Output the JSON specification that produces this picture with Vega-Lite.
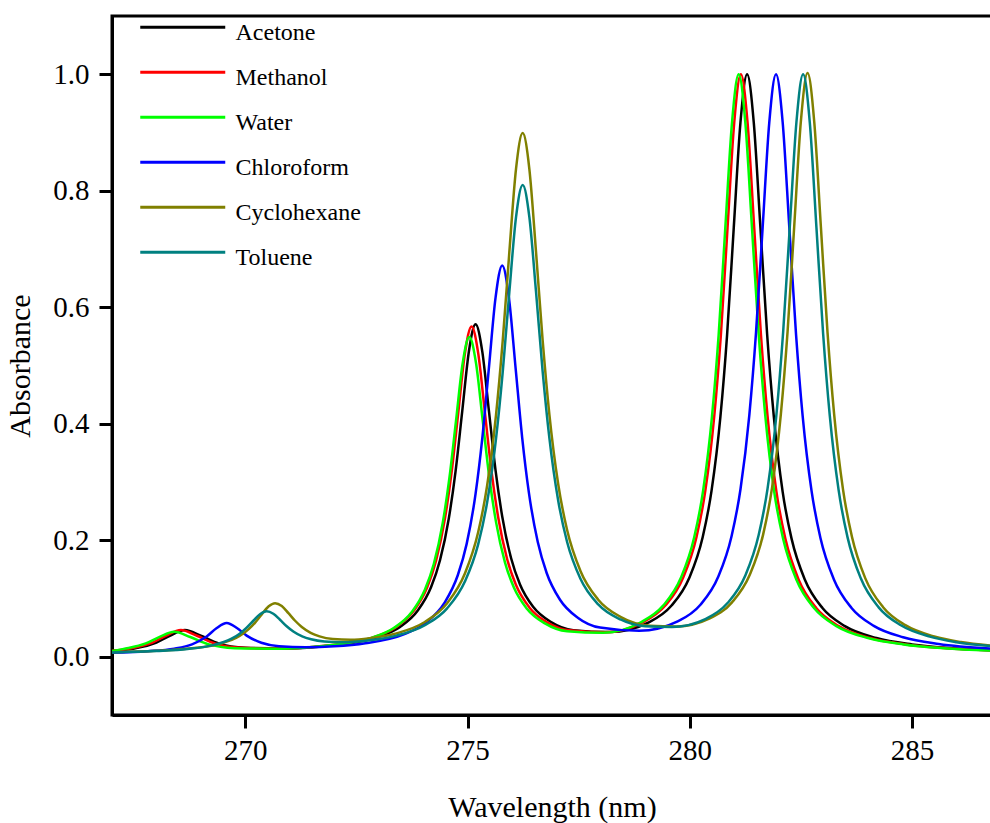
{
  "$schema": "https://vega.github.io/schema/vega-lite/v6.json",
  "width": 880,
  "height": 699,
  "autosize": {"type": "none"},
  "padding": {"left": 112, "top": 16, "right": 0, "bottom": 108},
  "background": "white",
  "config": {
    "font": "Liberation Serif",
    "view": {"stroke": "black", "strokeWidth": 3}
  },
  "data": {"values": [
{"s":"Acetone","x":267,"y":0.010},{"s":"Acetone","x":267.5,"y":0.0142},{"s":"Acetone","x":268,"y":0.0244},{"s":"Acetone","x":268.3,"y":0.0359},{"s":"Acetone","x":268.64,"y":0.0458},{"s":"Acetone","x":269.0,"y":0.036},{"s":"Acetone","x":269.4,"y":0.023},{"s":"Acetone","x":270,"y":0.0155},{"s":"Acetone","x":270.8,"y":0.0142},{"s":"Acetone","x":271.6,"y":0.0168},{"s":"Acetone","x":272.3,"y":0.0226},{"s":"Acetone","x":272.98,"y":0.0338},{"s":"Acetone","x":273.48,"y":0.0512},{"s":"Acetone","x":273.88,"y":0.0794},{"s":"Acetone","x":274.18,"y":0.1197},{"s":"Acetone","x":274.38,"y":0.1656},{"s":"Acetone","x":274.58,"y":0.2383},{"s":"Acetone","x":274.73,"y":0.3183},{"s":"Acetone","x":274.88,"y":0.4212},{"s":"Acetone","x":275.03,"y":0.5241},{"s":"Acetone","x":275.18,"y":0.5709},{"s":"Acetone","x":275.33,"y":0.5246},{"s":"Acetone","x":275.48,"y":0.4225},{"s":"Acetone","x":275.63,"y":0.32},{"s":"Acetone","x":275.78,"y":0.2408},{"s":"Acetone","x":275.98,"y":0.169},{"s":"Acetone","x":276.18,"y":0.1241},{"s":"Acetone","x":276.48,"y":0.0853},{"s":"Acetone","x":276.88,"y":0.0595},{"s":"Acetone","x":277.38,"y":0.0456},{"s":"Acetone","x":278.2,"y":0.0423},{"s":"Acetone","x":279.09,"y":0.0595},{"s":"Acetone","x":279.59,"y":0.0879},{"s":"Acetone","x":279.99,"y":0.1357},{"s":"Acetone","x":280.29,"y":0.2053},{"s":"Acetone","x":280.49,"y":0.2851},{"s":"Acetone","x":280.69,"y":0.4125},{"s":"Acetone","x":280.84,"y":0.553},{"s":"Acetone","x":280.99,"y":0.737},{"s":"Acetone","x":281.14,"y":0.917},{"s":"Acetone","x":281.29,"y":1.0},{"s":"Acetone","x":281.44,"y":0.917},{"s":"Acetone","x":281.59,"y":0.736},{"s":"Acetone","x":281.74,"y":0.554},{"s":"Acetone","x":281.89,"y":0.413},{"s":"Acetone","x":282.09,"y":0.2831},{"s":"Acetone","x":282.29,"y":0.2028},{"s":"Acetone","x":282.59,"y":0.1323},{"s":"Acetone","x":282.99,"y":0.0832},{"s":"Acetone","x":283.49,"y":0.0526},{"s":"Acetone","x":284.2,"y":0.0321},{"s":"Acetone","x":285.0,"y":0.0212},{"s":"Acetone","x":285.9,"y":0.0148},{"s":"Acetone","x":286.8,"y":0.0112},
{"s":"Methanol","x":267,"y":0.0102},{"s":"Methanol","x":267.41,"y":0.0142},{"s":"Methanol","x":267.91,"y":0.0244},{"s":"Methanol","x":268.21,"y":0.0359},{"s":"Methanol","x":268.55,"y":0.0458},{"s":"Methanol","x":268.91,"y":0.036},{"s":"Methanol","x":269.31,"y":0.023},{"s":"Methanol","x":269.91,"y":0.0155},{"s":"Methanol","x":270.71,"y":0.0142},{"s":"Methanol","x":271.51,"y":0.0168},{"s":"Methanol","x":272.21,"y":0.0226},{"s":"Methanol","x":272.89,"y":0.0336},{"s":"Methanol","x":273.39,"y":0.0508},{"s":"Methanol","x":273.79,"y":0.0788},{"s":"Methanol","x":274.09,"y":0.1189},{"s":"Methanol","x":274.29,"y":0.1645},{"s":"Methanol","x":274.49,"y":0.2367},{"s":"Methanol","x":274.64,"y":0.3161},{"s":"Methanol","x":274.79,"y":0.4183},{"s":"Methanol","x":274.94,"y":0.5204},{"s":"Methanol","x":275.09,"y":0.567},{"s":"Methanol","x":275.24,"y":0.5209},{"s":"Methanol","x":275.39,"y":0.4195},{"s":"Methanol","x":275.54,"y":0.3178},{"s":"Methanol","x":275.69,"y":0.2391},{"s":"Methanol","x":275.89,"y":0.1678},{"s":"Methanol","x":276.09,"y":0.1232},{"s":"Methanol","x":276.39,"y":0.0847},{"s":"Methanol","x":276.79,"y":0.0591},{"s":"Methanol","x":277.29,"y":0.0453},{"s":"Methanol","x":278.1,"y":0.042},{"s":"Methanol","x":278.95,"y":0.0595},{"s":"Methanol","x":279.45,"y":0.0879},{"s":"Methanol","x":279.85,"y":0.1357},{"s":"Methanol","x":280.15,"y":0.2053},{"s":"Methanol","x":280.35,"y":0.2851},{"s":"Methanol","x":280.55,"y":0.4125},{"s":"Methanol","x":280.70,"y":0.553},{"s":"Methanol","x":280.85,"y":0.737},{"s":"Methanol","x":281.0,"y":0.917},{"s":"Methanol","x":281.15,"y":1.0},{"s":"Methanol","x":281.3,"y":0.917},{"s":"Methanol","x":281.45,"y":0.736},{"s":"Methanol","x":281.6,"y":0.554},{"s":"Methanol","x":281.75,"y":0.413},{"s":"Methanol","x":281.95,"y":0.2831},{"s":"Methanol","x":282.15,"y":0.2028},{"s":"Methanol","x":282.45,"y":0.1323},{"s":"Methanol","x":282.85,"y":0.0832},{"s":"Methanol","x":283.35,"y":0.0526},{"s":"Methanol","x":284.06,"y":0.0321},{"s":"Methanol","x":284.86,"y":0.0212},{"s":"Methanol","x":285.76,"y":0.0148},{"s":"Methanol","x":286.8,"y":0.011},
{"s":"Water","x":267,"y":0.0097},{"s":"Water","x":267.26,"y":0.0135},{"s":"Water","x":267.76,"y":0.0229},{"s":"Water","x":268.06,"y":0.0338},{"s":"Water","x":268.4,"y":0.043},{"s":"Water","x":268.76,"y":0.0339},{"s":"Water","x":269.16,"y":0.0217},{"s":"Water","x":269.76,"y":0.0148},{"s":"Water","x":270.6,"y":0.0138},{"s":"Water","x":271.45,"y":0.0165},{"s":"Water","x":272.2,"y":0.0222},{"s":"Water","x":272.84,"y":0.0325},{"s":"Water","x":273.34,"y":0.0492},{"s":"Water","x":273.74,"y":0.0763},{"s":"Water","x":274.04,"y":0.1151},{"s":"Water","x":274.24,"y":0.1592},{"s":"Water","x":274.44,"y":0.2291},{"s":"Water","x":274.59,"y":0.306},{"s":"Water","x":274.74,"y":0.405},{"s":"Water","x":274.89,"y":0.5039},{"s":"Water","x":275.04,"y":0.549},{"s":"Water","x":275.19,"y":0.5044},{"s":"Water","x":275.34,"y":0.4062},{"s":"Water","x":275.49,"y":0.3077},{"s":"Water","x":275.64,"y":0.2315},{"s":"Water","x":275.84,"y":0.1625},{"s":"Water","x":276.04,"y":0.1193},{"s":"Water","x":276.34,"y":0.082},{"s":"Water","x":276.74,"y":0.0572},{"s":"Water","x":277.24,"y":0.0438},{"s":"Water","x":278.05,"y":0.0412},{"s":"Water","x":278.9,"y":0.0592},{"s":"Water","x":279.4,"y":0.0877},{"s":"Water","x":279.8,"y":0.1355},{"s":"Water","x":280.1,"y":0.2052},{"s":"Water","x":280.3,"y":0.285},{"s":"Water","x":280.5,"y":0.4125},{"s":"Water","x":280.65,"y":0.553},{"s":"Water","x":280.8,"y":0.737},{"s":"Water","x":280.95,"y":0.917},{"s":"Water","x":281.1,"y":1.0},{"s":"Water","x":281.25,"y":0.917},{"s":"Water","x":281.4,"y":0.736},{"s":"Water","x":281.55,"y":0.554},{"s":"Water","x":281.7,"y":0.413},{"s":"Water","x":281.9,"y":0.2831},{"s":"Water","x":282.1,"y":0.2028},{"s":"Water","x":282.4,"y":0.1323},{"s":"Water","x":282.8,"y":0.0832},{"s":"Water","x":283.3,"y":0.0526},{"s":"Water","x":284.01,"y":0.0321},{"s":"Water","x":284.81,"y":0.0212},{"s":"Water","x":285.71,"y":0.0148},{"s":"Water","x":286.8,"y":0.0108},
{"s":"Chloroform","x":267,"y":0.007},{"s":"Chloroform","x":267.8,"y":0.0095},{"s":"Chloroform","x":268.4,"y":0.0139},{"s":"Chloroform","x":268.8,"y":0.0214},{"s":"Chloroform","x":269.13,"y":0.0348},{"s":"Chloroform","x":269.35,"y":0.0488},{"s":"Chloroform","x":269.58,"y":0.0579},{"s":"Chloroform","x":269.81,"y":0.0494},{"s":"Chloroform","x":270.03,"y":0.0363},{"s":"Chloroform","x":270.36,"y":0.024},{"s":"Chloroform","x":270.76,"y":0.018},{"s":"Chloroform","x":271.36,"y":0.0163},{"s":"Chloroform","x":272.0,"y":0.0179},{"s":"Chloroform","x":272.7,"y":0.0232},{"s":"Chloroform","x":273.58,"y":0.0388},{"s":"Chloroform","x":274.08,"y":0.0594},{"s":"Chloroform","x":274.48,"y":0.0924},{"s":"Chloroform","x":274.78,"y":0.1399},{"s":"Chloroform","x":274.98,"y":0.1938},{"s":"Chloroform","x":275.18,"y":0.2796},{"s":"Chloroform","x":275.33,"y":0.374},{"s":"Chloroform","x":275.48,"y":0.4955},{"s":"Chloroform","x":275.63,"y":0.6166},{"s":"Chloroform","x":275.78,"y":0.6718},{"s":"Chloroform","x":275.93,"y":0.6168},{"s":"Chloroform","x":276.08,"y":0.4965},{"s":"Chloroform","x":276.23,"y":0.3755},{"s":"Chloroform","x":276.38,"y":0.2818},{"s":"Chloroform","x":276.58,"y":0.1969},{"s":"Chloroform","x":276.78,"y":0.1438},{"s":"Chloroform","x":277.08,"y":0.0979},{"s":"Chloroform","x":277.48,"y":0.0671},{"s":"Chloroform","x":277.98,"y":0.0501},{"s":"Chloroform","x":278.86,"y":0.0445},{"s":"Chloroform","x":279.74,"y":0.0611},{"s":"Chloroform","x":280.24,"y":0.0893},{"s":"Chloroform","x":280.64,"y":0.1372},{"s":"Chloroform","x":280.94,"y":0.207},{"s":"Chloroform","x":281.14,"y":0.2871},{"s":"Chloroform","x":281.34,"y":0.4149},{"s":"Chloroform","x":281.49,"y":0.5559},{"s":"Chloroform","x":281.64,"y":0.7376},{"s":"Chloroform","x":281.79,"y":0.9182},{"s":"Chloroform","x":281.94,"y":1.0},{"s":"Chloroform","x":282.09,"y":0.9176},{"s":"Chloroform","x":282.24,"y":0.7365},{"s":"Chloroform","x":282.39,"y":0.5544},{"s":"Chloroform","x":282.54,"y":0.4131},{"s":"Chloroform","x":282.74,"y":0.2847},{"s":"Chloroform","x":282.94,"y":0.204},{"s":"Chloroform","x":283.24,"y":0.1332},{"s":"Chloroform","x":283.64,"y":0.0838},{"s":"Chloroform","x":284.14,"y":0.0531},{"s":"Chloroform","x":284.8,"y":0.0335},{"s":"Chloroform","x":285.6,"y":0.022},{"s":"Chloroform","x":286.8,"y":0.014},
{"s":"Cyclohexane","x":267,"y":0.0079},{"s":"Cyclohexane","x":268,"y":0.0103},{"s":"Cyclohexane","x":268.8,"y":0.0145},{"s":"Cyclohexane","x":269.4,"y":0.0217},{"s":"Cyclohexane","x":269.87,"y":0.0357},{"s":"Cyclohexane","x":270.07,"y":0.0471},{"s":"Cyclohexane","x":270.22,"y":0.0587},{"s":"Cyclohexane","x":270.37,"y":0.0728},{"s":"Cyclohexane","x":270.52,"y":0.0862},{"s":"Cyclohexane","x":270.67,"y":0.092},{"s":"Cyclohexane","x":270.82,"y":0.0871},{"s":"Cyclohexane","x":270.97,"y":0.0748},{"s":"Cyclohexane","x":271.12,"y":0.0618},{"s":"Cyclohexane","x":271.27,"y":0.0511},{"s":"Cyclohexane","x":271.47,"y":0.0411},{"s":"Cyclohexane","x":271.67,"y":0.035},{"s":"Cyclohexane","x":271.97,"y":0.0305},{"s":"Cyclohexane","x":272.37,"y":0.0292},{"s":"Cyclohexane","x":272.8,"y":0.0318},{"s":"Cyclohexane","x":273.4,"y":0.0402},{"s":"Cyclohexane","x":274.04,"y":0.0597},{"s":"Cyclohexane","x":274.54,"y":0.0918},{"s":"Cyclohexane","x":274.94,"y":0.1428},{"s":"Cyclohexane","x":275.24,"y":0.2141},{"s":"Cyclohexane","x":275.44,"y":0.2935},{"s":"Cyclohexane","x":275.64,"y":0.4147},{"s":"Cyclohexane","x":275.79,"y":0.5413},{"s":"Cyclohexane","x":275.94,"y":0.6945},{"s":"Cyclohexane","x":276.09,"y":0.8371},{"s":"Cyclohexane","x":276.24,"y":0.899},{"s":"Cyclohexane","x":276.39,"y":0.8377},{"s":"Cyclohexane","x":276.54,"y":0.6956},{"s":"Cyclohexane","x":276.69,"y":0.5428},{"s":"Cyclohexane","x":276.84,"y":0.4167},{"s":"Cyclohexane","x":277.04,"y":0.2962},{"s":"Cyclohexane","x":277.24,"y":0.2175},{"s":"Cyclohexane","x":277.54,"y":0.1473},{"s":"Cyclohexane","x":277.94,"y":0.098},{"s":"Cyclohexane","x":278.44,"y":0.0686},{"s":"Cyclohexane","x":279.1,"y":0.0534},{"s":"Cyclohexane","x":279.7,"y":0.052},{"s":"Cyclohexane","x":280.45,"y":0.0659},{"s":"Cyclohexane","x":280.95,"y":0.0933},{"s":"Cyclohexane","x":281.35,"y":0.1406},{"s":"Cyclohexane","x":281.65,"y":0.2097},{"s":"Cyclohexane","x":281.85,"y":0.2895},{"s":"Cyclohexane","x":282.05,"y":0.417},{"s":"Cyclohexane","x":282.2,"y":0.5576},{"s":"Cyclohexane","x":282.35,"y":0.739},{"s":"Cyclohexane","x":282.5,"y":0.9194},{"s":"Cyclohexane","x":282.65,"y":1.002},{"s":"Cyclohexane","x":282.8,"y":0.9188},{"s":"Cyclohexane","x":282.95,"y":0.7379},{"s":"Cyclohexane","x":283.1,"y":0.5559},{"s":"Cyclohexane","x":283.25,"y":0.4147},{"s":"Cyclohexane","x":283.45,"y":0.2861},{"s":"Cyclohexane","x":283.65,"y":0.2055},{"s":"Cyclohexane","x":283.95,"y":0.1346},{"s":"Cyclohexane","x":284.35,"y":0.0851},{"s":"Cyclohexane","x":284.85,"y":0.0543},{"s":"Cyclohexane","x":285.5,"y":0.0348},{"s":"Cyclohexane","x":286.1,"y":0.0252},{"s":"Cyclohexane","x":286.8,"y":0.0188},
{"s":"Toluene","x":267,"y":0.0074},{"s":"Toluene","x":268,"y":0.0099},{"s":"Toluene","x":268.7,"y":0.0133},{"s":"Toluene","x":269.25,"y":0.0195},{"s":"Toluene","x":269.68,"y":0.0306},{"s":"Toluene","x":269.88,"y":0.0401},{"s":"Toluene","x":270.03,"y":0.05},{"s":"Toluene","x":270.18,"y":0.0618},{"s":"Toluene","x":270.33,"y":0.073},{"s":"Toluene","x":270.48,"y":0.078},{"s":"Toluene","x":270.63,"y":0.0738},{"s":"Toluene","x":270.78,"y":0.0635},{"s":"Toluene","x":270.93,"y":0.0524},{"s":"Toluene","x":271.08,"y":0.0434},{"s":"Toluene","x":271.28,"y":0.035},{"s":"Toluene","x":271.48,"y":0.03},{"s":"Toluene","x":271.78,"y":0.0261},{"s":"Toluene","x":272.18,"y":0.0247},{"s":"Toluene","x":272.8,"y":0.0282},{"s":"Toluene","x":273.4,"y":0.0363},{"s":"Toluene","x":274.04,"y":0.0541},{"s":"Toluene","x":274.54,"y":0.0831},{"s":"Toluene","x":274.94,"y":0.1291},{"s":"Toluene","x":275.24,"y":0.1934},{"s":"Toluene","x":275.44,"y":0.2648},{"s":"Toluene","x":275.64,"y":0.374},{"s":"Toluene","x":275.79,"y":0.4879},{"s":"Toluene","x":275.94,"y":0.6259},{"s":"Toluene","x":276.09,"y":0.7543},{"s":"Toluene","x":276.24,"y":0.81},{"s":"Toluene","x":276.39,"y":0.755},{"s":"Toluene","x":276.54,"y":0.6271},{"s":"Toluene","x":276.69,"y":0.4896},{"s":"Toluene","x":276.84,"y":0.3761},{"s":"Toluene","x":277.04,"y":0.2678},{"s":"Toluene","x":277.24,"y":0.1971},{"s":"Toluene","x":277.54,"y":0.134},{"s":"Toluene","x":277.94,"y":0.0899},{"s":"Toluene","x":278.44,"y":0.064},{"s":"Toluene","x":279.0,"y":0.0523},{"s":"Toluene","x":279.6,"y":0.051},{"s":"Toluene","x":280.35,"y":0.0647},{"s":"Toluene","x":280.85,"y":0.0922},{"s":"Toluene","x":281.25,"y":0.1395},{"s":"Toluene","x":281.55,"y":0.2089},{"s":"Toluene","x":281.75,"y":0.2887},{"s":"Toluene","x":281.95,"y":0.4161},{"s":"Toluene","x":282.1,"y":0.5566},{"s":"Toluene","x":282.25,"y":0.7378},{"s":"Toluene","x":282.4,"y":0.918},{"s":"Toluene","x":282.55,"y":1.0},{"s":"Toluene","x":282.7,"y":0.9175},{"s":"Toluene","x":282.85,"y":0.7367},{"s":"Toluene","x":283.0,"y":0.555},{"s":"Toluene","x":283.15,"y":0.4139},{"s":"Toluene","x":283.35,"y":0.2856},{"s":"Toluene","x":283.55,"y":0.2049},{"s":"Toluene","x":283.85,"y":0.1342},{"s":"Toluene","x":284.25,"y":0.0848},{"s":"Toluene","x":284.75,"y":0.054},{"s":"Toluene","x":285.4,"y":0.0345},{"s":"Toluene","x":286.0,"y":0.025},{"s":"Toluene","x":286.8,"y":0.0182}
  ]},
  "mark": {"type": "line", "strokeWidth": 2.5, "clip": true, "interpolate": "monotone"},
  "encoding": {
    "x": {
      "field": "x", "type": "quantitative",
      "scale": {"domain": [267, 286.8], "nice": false, "zero": false},
      "axis": {
        "values": [270, 275, 280, 285], "grid": false, "title": "Wavelength (nm)",
        "titleFont": "Liberation Serif", "titleFontSize": 30, "titleFontWeight": "normal", "titleColor": "black", "titlePadding": 27,
        "labelFont": "Liberation Serif", "labelFontSize": 29, "labelColor": "black", "labelPadding": 8,
        "tickSize": 13, "tickWidth": 3, "tickColor": "black", "domainColor": "black", "domainWidth": 3
      }
    },
    "y": {
      "field": "y", "type": "quantitative",
      "scale": {"domain": [-0.1, 1.1], "nice": false, "zero": false},
      "axis": {
        "values": [0, 0.2, 0.4, 0.6, 0.8, 1.0], "format": ".1f", "grid": false, "title": "Absorbance",
        "titleFont": "Liberation Serif", "titleFontSize": 30, "titleFontWeight": "normal", "titleColor": "black", "titlePadding": 17,
        "labelFont": "Liberation Serif", "labelFontSize": 29, "labelColor": "black", "labelPadding": 10,
        "tickSize": 13, "tickWidth": 3, "tickColor": "black", "domainColor": "black", "domainWidth": 3
      }
    },
    "color": {
      "field": "s", "type": "nominal",
      "scale": {
        "domain": ["Acetone", "Methanol", "Water", "Chloroform", "Cyclohexane", "Toluene"],
        "range": ["#000000", "#ff0000", "#00ff00", "#0000ff", "#808000", "#008080"]
      },
      "legend": {
        "title": null, "orient": "none", "legendX": 47.75, "legendY": -11.75,
        "symbolType": "M-2,0H2", "symbolSize": 1806, "symbolStrokeWidth": 3,
        "labelFont": "Liberation Serif", "labelFontSize": 24, "labelColor": "black", "labelOffset": 29.75,
        "rowPadding": 4, "padding": 0,
        "encode": {"labels": {"update": {"dy": {"value": 6}}}}
      }
    }
  }
}
